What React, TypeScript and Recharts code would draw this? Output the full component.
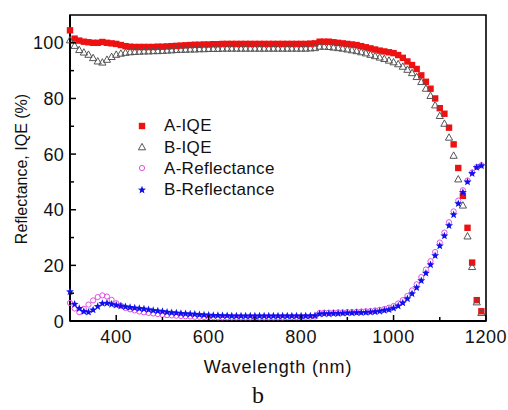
import {
  ComposedChart,
  Customized,
  Legend,
  ReferenceArea,
  Scatter,
  XAxis,
  YAxis,
} from "recharts";

const wavelengths = [
  300, 310, 320, 330, 340, 350, 360, 370, 380, 390,
  400, 410, 420, 430, 440, 450, 460, 470, 480, 490,
  500, 510, 520, 530, 540, 550, 560, 570, 580, 590,
  600, 610, 620, 630, 640, 650, 660, 670, 680, 690,
  700, 710, 720, 730, 740, 750, 760, 770, 780, 790,
  800, 810, 820, 830, 840, 850, 860, 870, 880, 890,
  900, 910, 920, 930, 940, 950, 960, 970, 980, 990,
  1000, 1010, 1020, 1030, 1040, 1050, 1060, 1070, 1080, 1090,
  1100, 1110, 1120, 1130, 1140, 1150, 1160, 1170, 1180, 1190,
];

const aIqe = [
  104.5, 101.5, 100.8, 100.4, 100.2, 100.0, 100.0, 100.3, 100.0, 99.8,
  99.6, 99.2, 98.8, 98.6, 98.5, 98.5, 98.5, 98.5, 98.5, 98.6,
  98.6, 98.7, 98.8, 98.9, 99.0, 99.1, 99.2, 99.3, 99.3, 99.4,
  99.4, 99.5, 99.5, 99.6, 99.6, 99.6, 99.6, 99.6, 99.6, 99.6,
  99.6, 99.6, 99.6, 99.6, 99.6, 99.6, 99.6, 99.6, 99.6, 99.6,
  99.6, 99.6, 99.7, 99.8, 100.4, 100.4, 100.4, 100.2, 100.0, 99.8,
  99.6, 99.4, 99.2, 98.8, 98.4, 98.0, 97.6, 97.2, 96.9, 96.6,
  96.3, 95.6, 94.6, 93.3, 92.0, 90.6, 88.3, 86.0, 83.5, 80.0,
  76.5, 74.5, 69.5, 63.5, 55.0, 45.0, 33.5, 21.0, 7.5, 3.5,
];

const bIqe = [
  101.0, 99.0, 97.5, 96.6, 95.8, 94.6, 93.4, 93.0, 94.0, 95.0,
  95.8, 96.2, 96.5, 96.7, 96.8, 96.9, 97.0, 97.0, 97.1, 97.1,
  97.2, 97.3, 97.4, 97.5, 97.6, 97.6, 97.7, 97.7, 97.8, 97.8,
  97.9, 97.9, 97.9, 98.0, 98.0, 98.0, 98.0, 98.0, 98.0, 98.0,
  98.0, 98.0, 98.0, 98.0, 98.0, 98.0, 98.0, 98.0, 98.0, 98.0,
  98.0, 98.0, 98.1, 98.2, 98.7, 98.7, 98.6, 98.4, 98.2, 98.0,
  97.7, 97.4, 97.1, 96.7, 96.3, 95.8, 95.3, 94.8, 94.3, 93.7,
  93.1, 92.4, 91.5, 90.4, 89.2, 87.8, 86.0, 83.6, 81.0, 77.6,
  73.8, 71.0, 66.0, 59.5, 51.0, 41.6, 30.5, 19.5, 6.8, 3.0,
];

const aRef = [
  6.5, 4.5, 3.2, 4.4, 5.9, 7.4, 8.6, 9.2, 8.8, 7.6,
  6.4, 5.5, 4.7, 4.2, 3.8, 3.4, 3.1, 2.9, 2.7, 2.5,
  2.3, 2.1, 2.0, 1.9, 1.8, 1.7, 1.6, 1.5, 1.5, 1.4,
  1.4, 1.4, 1.3, 1.3, 1.3, 1.3, 1.3, 1.3, 1.3, 1.3,
  1.3, 1.3, 1.3, 1.3, 1.3, 1.3, 1.3, 1.4, 1.4, 1.4,
  1.4, 1.5, 1.5, 1.6, 2.9, 3.0, 3.0, 3.0, 3.1, 3.1,
  3.2, 3.2, 3.3, 3.4, 3.5, 3.6, 3.8, 4.0, 4.3, 4.8,
  5.4, 6.3, 7.5, 9.0, 11.0, 13.2, 15.8, 18.5, 21.5, 24.8,
  28.2, 31.8, 35.5, 39.4, 43.3, 47.0, 50.5, 53.4, 55.3, 56.0,
];

const bRef = [
  10.5, 6.0, 4.5, 3.4, 3.2, 4.0, 5.2, 6.3, 6.4, 6.0,
  5.7, 5.4, 5.1, 4.9, 4.7, 4.5, 4.3, 4.1, 3.8, 3.6,
  3.4, 3.2, 3.0, 2.9, 2.7, 2.6, 2.5, 2.4, 2.3, 2.2,
  2.1, 2.0, 2.0, 1.9, 1.9, 1.8, 1.8, 1.8, 1.8, 1.8,
  1.8, 1.8, 1.8, 1.8, 1.8, 1.8, 1.8, 1.8, 1.8, 1.8,
  1.8, 1.8, 1.8, 1.9, 2.5, 2.6, 2.6, 2.7, 2.7, 2.8,
  2.9, 2.9, 3.0, 3.0, 3.1, 3.2, 3.3, 3.5, 3.8, 4.1,
  4.6, 5.4, 6.5, 8.0, 9.8, 12.0, 14.5, 17.2, 20.2, 23.5,
  27.0, 30.6, 34.3, 38.2, 42.2, 46.2, 50.0, 53.0, 55.2, 55.8,
];

const xTicks = [300, 400, 500, 600, 700, 800, 900, 1000, 1100, 1200];
const yTicks = [0, 10, 20, 30, 40, 50, 60, 70, 80, 90, 100];

const rows = wavelengths.map((w, i) => ({
  w,
  aIqe: aIqe[i],
  bIqe: bIqe[i],
  aRef: aRef[i],
  bRef: bRef[i],
}));

const font = '"Liberation Sans", Arial, sans-serif';
const ink = "#111";

function Square({ cx, cy }: any) {
  return <rect x={cx - 3.2} y={cy - 3.2} width={6.4} height={6.4} fill="#ee1111" />;
}

function Triangle({ cx, cy }: any) {
  return (
    <path
      d={`M${cx},${cy - 3.6}L${cx + 3.6},${cy + 2.8}L${cx - 3.6},${cy + 2.8}Z`}
      fill="none"
      stroke="#555"
      strokeWidth={1}
    />
  );
}

function Ring({ cx, cy }: any) {
  return <circle cx={cx} cy={cy} r={2.6} fill="none" stroke="#e050e0" strokeWidth={1} />;
}

function Star({ cx, cy }: any) {
  // five-pointed star, outer r 4.2, inner r 1.8
  const pts: string[] = [];
  for (let k = 0; k < 10; k++) {
    const r = k % 2 === 0 ? 4.2 : 1.8;
    const a = -Math.PI / 2 + (k * Math.PI) / 5;
    pts.push(`${cx + r * Math.cos(a)},${cy + r * Math.sin(a)}`);
  }
  return <polygon points={pts.join(" ")} fill="#1010ee" />;
}

function XTick({ x, y, payload }: any) {
  const major = payload.value % 200 === 0;
  return (
    <g>
      <line x1={x} y1={y} x2={x} y2={y - (major ? 6 : 4)} stroke="#000" strokeWidth={1.5} />
      {major && (
        <text
          x={x}
          y={y + 22}
          textAnchor="middle"
          fontFamily={font}
          fontSize={18}
          letterSpacing={0.6}
          fill={ink}
        >
          {payload.value}
        </text>
      )}
    </g>
  );
}

function YTick({ x, y, payload }: any) {
  const major = payload.value % 20 === 0;
  return (
    <g>
      <line x1={x} y1={y} x2={x + (major ? 6 : 4)} y2={y} stroke="#000" strokeWidth={1.5} />
      {major && (
        <text
          x={x - 6}
          y={y + 6.5}
          textAnchor="end"
          fontFamily={font}
          fontSize={18}
          letterSpacing={0.3}
          fill={ink}
        >
          {payload.value}
        </text>
      )}
    </g>
  );
}

const legendItems = [
  { label: "A-IQE", Mark: Square },
  { label: "B-IQE", Mark: Triangle },
  { label: "A-Reflectance", Mark: Ring },
  { label: "B-Reflectance", Mark: Star },
];

function LegendBox() {
  return (
    <div style={{ fontFamily: font, fontSize: 17, letterSpacing: 0.3, color: ink }}>
      {legendItems.map(({ label, Mark }) => (
        <div key={label} style={{ display: "flex", alignItems: "center", height: 21.4 }}>
          <svg width={30} height={12} style={{ display: "block" }}>
            <Mark cx={8} cy={6} />
          </svg>
          <span style={{ lineHeight: "21px" }}>{label}</span>
        </div>
      ))}
    </div>
  );
}

function Titles() {
  return (
    <g fontFamily={font} fill={ink}>
      <text x={278} y={373} textAnchor="middle" fontSize={18} letterSpacing={0.8}>
        Wavelength (nm)
      </text>
      <text transform="translate(27,169) rotate(-90)" textAnchor="middle" fontSize={16}>
        Reflectance, IQE (%)
      </text>
      <text
        x={258}
        y={403}
        textAnchor="middle"
        fontSize={24}
        fontFamily='"Liberation Serif", "Times New Roman", serif'
      >
        b
      </text>
    </g>
  );
}

export default function App() {
  return (
    <div style={{ position: "absolute", left: 0, top: 0, width: 508, height: 410, background: "#fff" }}>
      <ComposedChart
        width={508}
        height={410}
        data={rows}
        margin={{ top: 15, right: 22, left: 0, bottom: 0 }}
      >
        <XAxis
          dataKey="w"
          type="number"
          domain={[300, 1200]}
          ticks={xTicks}
          interval={0}
          height={89}
          tickSize={0}
          tickMargin={0}
          tickLine={false}
          tick={XTick}
          axisLine={{ stroke: "#000", strokeWidth: 2 }}
        />
        <YAxis
          type="number"
          domain={[0, 110]}
          ticks={yTicks}
          interval={0}
          width={70}
          tickSize={0}
          tickMargin={0}
          tickLine={false}
          tick={YTick}
          axisLine={{ stroke: "#000", strokeWidth: 2 }}
        />
        <ReferenceArea x1={300} x2={1200} y1={0} y2={110} fill="none" stroke="#000" strokeWidth={1.6} />
        <Scatter data={rows} dataKey="aIqe" shape={Square} isAnimationActive={false} />
        <Scatter data={rows} dataKey="bIqe" shape={Triangle} isAnimationActive={false} />
        <Scatter data={rows} dataKey="aRef" shape={Ring} isAnimationActive={false} />
        <Scatter data={rows} dataKey="bRef" shape={Star} isAnimationActive={false} />
        <Legend
          layout="vertical"
          align="center"
          verticalAlign="middle"
          content={() => <LegendBox />}
          wrapperStyle={{ left: 134, top: 115, width: "auto" }}
        />
        <Customized component={Titles} />
      </ComposedChart>
    </div>
  );
}
